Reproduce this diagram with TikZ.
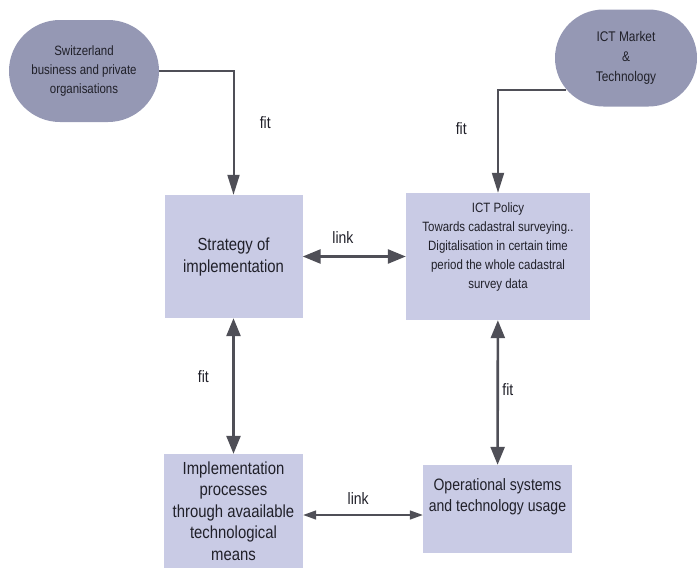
\documentclass[tikz,border=0pt]{standalone}
\usepackage{fontspec}
\setmainfont{Liberation Sans}[FakeStretch=0.85]
\usetikzlibrary{arrows.meta,shapes.misc,positioning}
\definecolor{darkfill}{HTML}{9598B4}
\definecolor{boxfill}{HTML}{C9CBE5}
\definecolor{linecol}{HTML}{4F4F57}
\definecolor{txtcol}{HTML}{202029}
\tikzset{
  oval/.style={rounded rectangle, fill=darkfill, text=txtcol, align=center, inner sep=0pt},
  bluebox/.style={fill=boxfill, text=txtcol, align=center, inner sep=0pt},
  boxtext/.style={text=txtcol, align=center, inner sep=0pt, anchor=north},
  feed/.style={draw=linecol, line width=2pt, -{Triangle[length=20pt,width=12pt]}},
  thick link/.style={draw=linecol, line width=2.6pt, {Triangle[length=18pt,width=14pt]}-{Triangle[length=18pt,width=14pt]}},
  thin link/.style={draw=linecol, line width=1.5pt, {Triangle[length=13pt,width=9pt]}-{Triangle[length=13pt,width=9pt]}},
  lbl/.style={text=txtcol, font=\fontsize{16.5}{20}\selectfont},
}

\begin{document}
\begin{tikzpicture}[x=1pt,y=-1pt]
\useasboundingbox (0,0) rectangle (699,573);

% the two outside parties
\node[oval, minimum width=150, minimum height=102, font=\fontsize{13.5}{19}\selectfont] (swiss) at (84,71) {Switzerland\\business and private\\organisations};
\node[oval, minimum width=142, minimum height=97, font=\fontsize{14}{20}\selectfont] (market) at (626,58) {ICT Market\\\&\\Technology};

% the four boxes
\node[bluebox, minimum width=138, minimum height=123, font=\fontsize{17.5}{22}\selectfont] (strat) at (233.5,256.5) {Strategy of\\implementation};
\node[bluebox, minimum width=184, minimum height=127] (policy) at (498,256.5) {};
\node[boxtext, font=\fontsize{13.5}{19}\selectfont] (policytxt) at (498,203) {ICT Policy\\Towards cadastral surveying..\\Digitalisation in certain time\\period the whole cadastral\\survey data};
\node[bluebox, minimum width=139, minimum height=114, font=\fontsize{17.5}{21.5}\selectfont] (impl) at (233.5,511) {Implementation\\processes\\through avaailable\\technological\\means};
\node[bluebox, minimum width=149, minimum height=88] (oper) at (497.5,509) {};
\node[boxtext, font=\fontsize{16.5}{21.5}\selectfont] (opertxt) at (497.5,478) {Operational systems\\and technology usage};

% fit and link arrows
\draw[feed] (swiss.east) -| node[lbl, pos=0.71, right=22pt]{fit} (strat.north);
\draw[feed] (market.208) -| node[lbl, pos=0.69, left=27pt]{fit} (policy.north);
\draw[thick link] (strat) -- node[lbl, pos=0.39, above=8pt]{link} (policy);
\draw[thick link] (strat) -- node[lbl, pos=0.43, left=20pt]{fit} (impl);
\draw[thick link] (policy) -- node[lbl, pos=0.48, right=0pt]{fit} (oper);
\draw[thin link] ([yshift=-4pt]impl.east) -- node[lbl, pos=0.46, above=6pt]{link} ([yshift=-4pt]impl.east -| oper.west);

\end{tikzpicture}
\end{document}
